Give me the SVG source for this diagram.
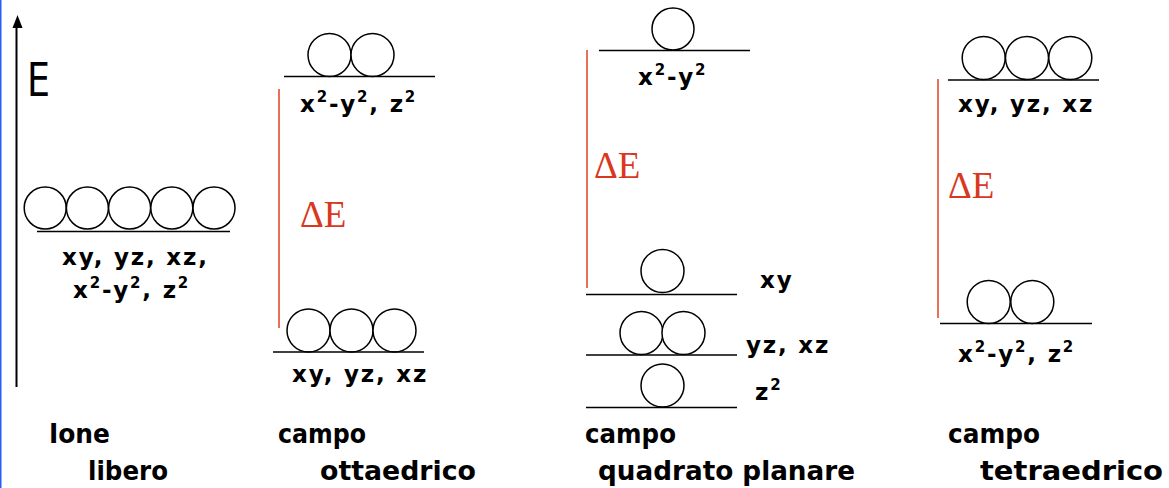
<svg xmlns="http://www.w3.org/2000/svg" width="1169" height="488" viewBox="0 0 1169 488">
<style>
.orb{fill:#fff;stroke:#000;stroke-width:1.5}
.lvl{stroke:#000;stroke-width:1.6}
.gap{stroke:#e0401e;stroke-width:1.5}
.lab{font-family:"DejaVu Sans",sans-serif;font-weight:bold;font-size:23px;letter-spacing:1.8px;fill:#000}
.sup{font-size:15px}
.ttl{font-family:"DejaVu Sans",sans-serif;font-weight:bold;font-size:26px;fill:#000}
.de{font-family:"Liberation Serif",serif;font-size:37px;fill:#d9381e}
</style>
<rect width="1169" height="488" fill="#fff"/>
<line x1="0.75" y1="0" x2="0.75" y2="488" stroke="#2a5cff" stroke-width="1.5"/>
<g id="axis">
<line x1="16.5" y1="387" x2="16.5" y2="27" stroke="#000" stroke-width="2"/>
<path d="M12.5,28 L17.5,15 L22.5,28 Z" fill="#000"/>
<text x="27" y="96" font-family="DejaVu Sans,sans-serif" font-size="46" textLength="23" lengthAdjust="spacingAndGlyphs">E</text>
</g>
<g id="free-ion">
<circle class="orb" cx="45.2" cy="208" r="21"/>
<circle class="orb" cx="87.4" cy="208" r="21"/>
<circle class="orb" cx="129.6" cy="208" r="21"/>
<circle class="orb" cx="171.8" cy="208" r="21"/>
<circle class="orb" cx="214" cy="208" r="21"/>
<line class="lvl" x1="37" y1="231.5" x2="230" y2="231.5"/>
<text class="lab" x="62" y="265">xy, yz, xz,</text>
<text class="lab" x="73" y="298">x<tspan class="sup" dy="-10">2</tspan><tspan dy="10">-y</tspan><tspan class="sup" dy="-10">2</tspan><tspan dy="10">, z</tspan><tspan class="sup" dy="-10">2</tspan></text>
<text class="ttl" x="49" y="443" textLength="61" lengthAdjust="spacingAndGlyphs">Ione</text>
<text class="ttl" x="88" y="480" textLength="80" lengthAdjust="spacingAndGlyphs">libero</text>
</g>
<g id="octahedral">
<circle class="orb" cx="329.5" cy="55" r="21.5"/>
<circle class="orb" cx="372.5" cy="55" r="21.5"/>
<line class="lvl" x1="284" y1="76.5" x2="435" y2="76.5"/>
<text class="lab" x="300" y="112">x<tspan class="sup" dy="-10">2</tspan><tspan dy="10">-y</tspan><tspan class="sup" dy="-10">2</tspan><tspan dy="10">, z</tspan><tspan class="sup" dy="-10">2</tspan></text>
<line class="gap" x1="279" y1="89" x2="279" y2="328"/>
<text class="de" x="300" y="227">ΔE</text>
<circle class="orb" cx="308.5" cy="330.5" r="21.5"/>
<circle class="orb" cx="351.5" cy="330.5" r="21.5"/>
<circle class="orb" cx="394.5" cy="330.5" r="21.5"/>
<line class="lvl" x1="273" y1="352" x2="424" y2="352"/>
<text class="lab" x="292" y="382">xy, yz, xz</text>
<text class="ttl" x="278" y="443" textLength="88" lengthAdjust="spacingAndGlyphs">campo</text>
<text class="ttl" x="320" y="480" textLength="156" lengthAdjust="spacingAndGlyphs">ottaedrico</text>
</g>
<g id="square-planar">
<circle class="orb" cx="673" cy="29" r="21"/>
<line class="lvl" x1="599" y1="50.5" x2="750" y2="50.5"/>
<text class="lab" x="638" y="85">x<tspan class="sup" dy="-10">2</tspan><tspan dy="10">-y</tspan><tspan class="sup" dy="-10">2</tspan></text>
<line class="gap" x1="587" y1="50" x2="587" y2="288"/>
<text class="de" x="594" y="178">ΔE</text>
<circle class="orb" cx="662.5" cy="271" r="21.5"/>
<line class="lvl" x1="586" y1="294.5" x2="737" y2="294.5"/>
<text class="lab" x="760" y="288">xy</text>
<circle class="orb" cx="641.5" cy="333" r="21.5"/>
<circle class="orb" cx="683.5" cy="333" r="21.5"/>
<line class="lvl" x1="586" y1="355" x2="737" y2="355"/>
<text class="lab" x="746" y="353">yz, xz</text>
<circle class="orb" cx="662.5" cy="385.5" r="21.5"/>
<line class="lvl" x1="586" y1="407.5" x2="737" y2="407.5"/>
<text class="lab" x="755" y="400">z<tspan class="sup" dy="-10">2</tspan></text>
<text class="ttl" x="585" y="443" textLength="91" lengthAdjust="spacingAndGlyphs">campo</text>
<text class="ttl" x="598" y="480" textLength="257" lengthAdjust="spacingAndGlyphs">quadrato planare</text>
</g>
<g id="tetrahedral">
<circle class="orb" cx="983.7" cy="58" r="21.5"/>
<circle class="orb" cx="1027" cy="58" r="21.5"/>
<circle class="orb" cx="1070.3" cy="58" r="21.5"/>
<line class="lvl" x1="948" y1="80" x2="1099" y2="80"/>
<text class="lab" x="958" y="112">xy, yz, xz</text>
<line class="gap" x1="938" y1="79" x2="938" y2="318"/>
<text class="de" x="948" y="198">ΔE</text>
<circle class="orb" cx="988.7" cy="302" r="21.5"/>
<circle class="orb" cx="1032.3" cy="302" r="21.5"/>
<line class="lvl" x1="940" y1="323.5" x2="1092" y2="323.5"/>
<text class="lab" x="958" y="362">x<tspan class="sup" dy="-10">2</tspan><tspan dy="10">-y</tspan><tspan class="sup" dy="-10">2</tspan><tspan dy="10">, z</tspan><tspan class="sup" dy="-10">2</tspan></text>
<text class="ttl" x="948" y="443" textLength="92" lengthAdjust="spacingAndGlyphs">campo</text>
<text class="ttl" x="980" y="480" textLength="183" lengthAdjust="spacingAndGlyphs">tetraedrico</text>
</g>
</svg>
